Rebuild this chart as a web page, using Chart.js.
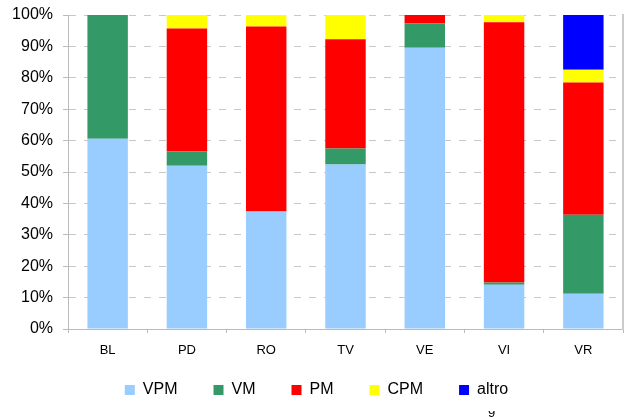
<!DOCTYPE html>
<html>
<head>
<meta charset="utf-8">
<script src="https://cdn.jsdelivr.net/npm/chart.js@4"></script>
<style>
  body { margin: 0; background: #fff; }
  #wrap { width: 629px; height: 419px; }
</style>
</head>
<body>
<div id="wrap"><canvas id="myChart"></canvas></div>
<script>
const categories = ['BL', 'PD', 'RO', 'TV', 'VE', 'VI', 'VR']
const vpm   = [60.6, 52.0, 37.4, 52.4, 89.6, 14.1, 11.2]
const vm    = [39.4,  4.5,  0.0,  5.1,  7.7,  0.7, 25.2]
const pm    = [ 0.0, 39.2, 58.9, 34.8,  2.7, 82.9, 42.1]
const cpm   = [ 0.0,  4.3,  3.7,  7.7,  0.0,  2.3,  4.1]
const altro = [ 0.0,  0.0,  0.0,  0.0,  0.0,  0.0, 17.4]
const yTicks = [0, 10, 20, 30, 40, 50, 60, 70, 80, 90, 100]

const graph = document.getElementById('myChart')
const font = 'Liberation Sans, Arial, sans-serif'

const datasets = [
    { label: 'VPM', data: vpm, backgroundColor: '#99CCFF' },
    { label: 'VM', data: vm, backgroundColor: '#339966' },
    { label: 'PM', data: pm, backgroundColor: '#FF0000' },
    { label: 'CPM', data: cpm, backgroundColor: '#FFFF00' },
    { label: 'altro', data: altro, backgroundColor: '#0000FF' }
]

// x labels hang into the legend's empty top band, so let them draw there
// and add the page number, mostly cut off
const pageMark = {
    id: 'pageMark',
    afterLayout(chart) {
        chart.scales.x.bottom = chart.height
    },
    afterDraw(chart) {
        const ctx = chart.ctx
        ctx.save()
        ctx.beginPath()
        ctx.rect(480, 411, 30, 8)
        ctx.clip()
        ctx.fillStyle = '#000'
        ctx.font = '13px ' + font
        ctx.textBaseline = 'alphabetic'
        ctx.fillText('9', 488, 417)
        ctx.restore()
    }
}

const config = {
    type: 'bar',
    data: { labels: categories, datasets },
    options: {
        responsive: true,
        maintainAspectRatio: false,
        animation: false,
        layout: { padding: { top: 15, right: 6, left: 10, bottom: 11 } },
        datasets: { bar: { barPercentage: 0.51, categoryPercentage: 1 } },
        plugins: {
            tooltip: { enabled: false },
            legend: {
                position: 'bottom',
                labels: {
                    boxWidth: 10, boxHeight: 10, padding: 36,
                    color: '#000', font: { family: font, size: 16 }
                }
            }
        },
        scales: {
            x: {
                stacked: true,
                grid: { drawOnChartArea: false, tickLength: 4, color: '#bbb', offset: true },
                border: { color: '#bbb', width: 1 },
                ticks: { color: '#000', font: { family: font, size: 13 }, padding: 10 },
                afterFit: (s) => { s.height = 17 }
            },
            y: {
                stacked: true,
                min: 0, max: 100,
                afterBuildTicks: (s) => { s.ticks = yTicks.map(v => ({ value: v })) },
                grid: { color: '#c8c8c8', tickBorderDash: [], tickLength: 5, tickColor: '#bbb' },
                border: { color: '#bbb', width: 1, dash: [7, 8] },
                ticks: { color: '#000', font: { family: font, size: 16 }, padding: 10, callback: (v) => v + '%' },
                afterFit: (s) => { s.width = 58; s.paddingTop = 0; s.paddingBottom = 0 }
            },
            y2: {
                position: 'right',
                min: 0, max: 100,
                grid: { drawOnChartArea: false, drawTicks: false },
                border: { color: '#ccc', width: 2 },
                ticks: { display: false },
                afterFit: (s) => { s.width = 0 }
            }
        }
    },
    plugins: [pageMark]
}

new Chart(graph, config)
</script>
</body>
</html>
